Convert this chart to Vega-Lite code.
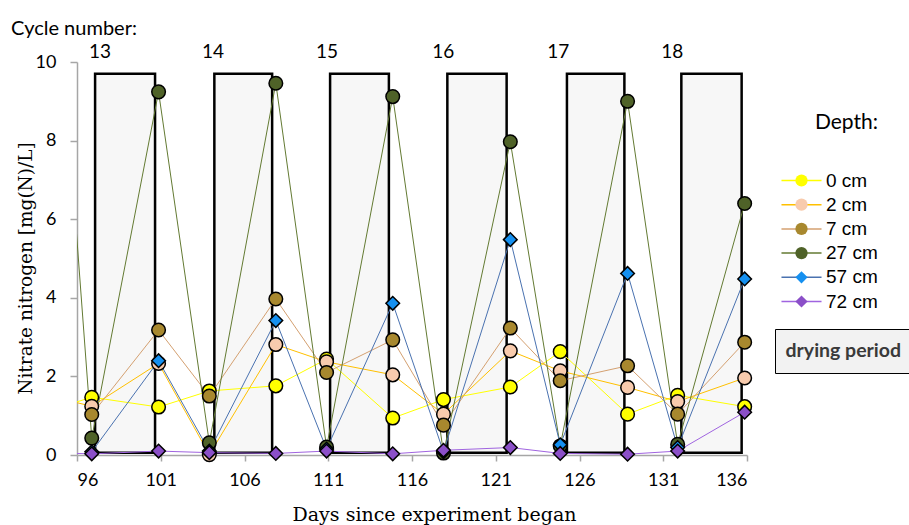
{
  "$schema": "https://vega.github.io/schema/vega-lite/v6.json",
  "width": 670,
  "height": 393,
  "autosize": {"type": "none"},
  "padding": {"left": 77, "top": 62, "right": 162, "bottom": 70},
  "background": "white",
  "title": {"text": "Cycle number:", "anchor": "start", "frame": "bounds", "font": "Lato", "fontSize": 20, "fontWeight": "normal", "color": "black", "offset": 4, "dx": -5},
  "config": {"view": {"stroke": null}, "axis": {"grid": false}},
  "datasets": {
    "obs": [
      {"day": 93.88, "depth": "0 cm", "n": 1.07},
      {"day": 96.88, "depth": "0 cm", "n": 1.47},
      {"day": 100.87, "depth": "0 cm", "n": 1.22},
      {"day": 103.9, "depth": "0 cm", "n": 1.63},
      {"day": 107.87, "depth": "0 cm", "n": 1.76},
      {"day": 110.9, "depth": "0 cm", "n": 2.44},
      {"day": 114.85, "depth": "0 cm", "n": 0.94},
      {"day": 117.88, "depth": "0 cm", "n": 1.41},
      {"day": 121.87, "depth": "0 cm", "n": 1.73},
      {"day": 124.85, "depth": "0 cm", "n": 2.63},
      {"day": 128.87, "depth": "0 cm", "n": 1.04},
      {"day": 131.86, "depth": "0 cm", "n": 1.52},
      {"day": 135.86, "depth": "0 cm", "n": 1.23},
      {"day": 93.88, "depth": "2 cm", "n": 1.55},
      {"day": 96.88, "depth": "2 cm", "n": 1.24},
      {"day": 100.87, "depth": "2 cm", "n": 2.33},
      {"day": 103.9, "depth": "2 cm", "n": 0.01},
      {"day": 107.87, "depth": "2 cm", "n": 2.81},
      {"day": 110.9, "depth": "2 cm", "n": 2.37},
      {"day": 114.85, "depth": "2 cm", "n": 2.04},
      {"day": 117.88, "depth": "2 cm", "n": 1.04},
      {"day": 121.87, "depth": "2 cm", "n": 2.65},
      {"day": 124.85, "depth": "2 cm", "n": 2.14},
      {"day": 128.87, "depth": "2 cm", "n": 1.72},
      {"day": 131.86, "depth": "2 cm", "n": 1.36},
      {"day": 135.86, "depth": "2 cm", "n": 1.96},
      {"day": 96.88, "depth": "7 cm", "n": 1.03},
      {"day": 100.87, "depth": "7 cm", "n": 3.18},
      {"day": 103.9, "depth": "7 cm", "n": 1.5},
      {"day": 107.87, "depth": "7 cm", "n": 3.97},
      {"day": 110.9, "depth": "7 cm", "n": 2.1},
      {"day": 114.85, "depth": "7 cm", "n": 2.93},
      {"day": 117.88, "depth": "7 cm", "n": 0.76},
      {"day": 121.87, "depth": "7 cm", "n": 3.23},
      {"day": 124.85, "depth": "7 cm", "n": 1.89},
      {"day": 128.87, "depth": "7 cm", "n": 2.27},
      {"day": 131.86, "depth": "7 cm", "n": 1.04},
      {"day": 135.86, "depth": "7 cm", "n": 2.87},
      {"day": 93.88, "depth": "27 cm", "n": 17.6},
      {"day": 96.88, "depth": "27 cm", "n": 0.43},
      {"day": 100.87, "depth": "27 cm", "n": 9.24},
      {"day": 103.9, "depth": "27 cm", "n": 0.31},
      {"day": 107.87, "depth": "27 cm", "n": 9.46},
      {"day": 110.9, "depth": "27 cm", "n": 0.2},
      {"day": 114.85, "depth": "27 cm", "n": 9.12},
      {"day": 117.88, "depth": "27 cm", "n": 0.05},
      {"day": 121.87, "depth": "27 cm", "n": 7.97},
      {"day": 124.85, "depth": "27 cm", "n": 0.23},
      {"day": 128.87, "depth": "27 cm", "n": 9.0},
      {"day": 131.86, "depth": "27 cm", "n": 0.27},
      {"day": 135.86, "depth": "27 cm", "n": 6.4},
      {"day": 96.88, "depth": "57 cm", "n": 0.08},
      {"day": 100.87, "depth": "57 cm", "n": 2.4},
      {"day": 103.9, "depth": "57 cm", "n": 0.1},
      {"day": 107.87, "depth": "57 cm", "n": 3.42},
      {"day": 110.9, "depth": "57 cm", "n": 0.15},
      {"day": 114.85, "depth": "57 cm", "n": 3.86},
      {"day": 117.88, "depth": "57 cm", "n": 0.08},
      {"day": 121.87, "depth": "57 cm", "n": 5.48},
      {"day": 124.85, "depth": "57 cm", "n": 0.26},
      {"day": 128.87, "depth": "57 cm", "n": 4.62},
      {"day": 131.86, "depth": "57 cm", "n": 0.19},
      {"day": 135.86, "depth": "57 cm", "n": 4.48},
      {"day": 93.88, "depth": "72 cm", "n": 0.06},
      {"day": 96.88, "depth": "72 cm", "n": 0.03},
      {"day": 100.87, "depth": "72 cm", "n": 0.1},
      {"day": 103.9, "depth": "72 cm", "n": 0.06},
      {"day": 107.87, "depth": "72 cm", "n": 0.04},
      {"day": 110.9, "depth": "72 cm", "n": 0.1},
      {"day": 114.85, "depth": "72 cm", "n": 0.03},
      {"day": 117.88, "depth": "72 cm", "n": 0.12},
      {"day": 121.87, "depth": "72 cm", "n": 0.19},
      {"day": 124.85, "depth": "72 cm", "n": 0.04},
      {"day": 128.87, "depth": "72 cm", "n": 0.02},
      {"day": 131.86, "depth": "72 cm", "n": 0.1},
      {"day": 135.86, "depth": "72 cm", "n": 1.09}
    ],
    "dry": [
      {"cycle": "13", "start": 97.08, "end": 100.66, "top": 9.7, "bottom": 0.06, "period": "drying period"},
      {"cycle": "14", "start": 104.2, "end": 107.65, "top": 9.7, "bottom": 0.06, "period": "drying period"},
      {"cycle": "15", "start": 111.11, "end": 114.62, "top": 9.7, "bottom": 0.06, "period": "drying period"},
      {"cycle": "16", "start": 118.11, "end": 121.65, "top": 9.7, "bottom": 0.06, "period": "drying period"},
      {"cycle": "17", "start": 125.25, "end": 128.68, "top": 9.7, "bottom": 0.06, "period": "drying period"},
      {"cycle": "18", "start": 132.08, "end": 135.68, "top": 9.7, "bottom": 0.06, "period": "drying period"}
    ],
    "cycles": [
      {"cycle": "13", "label_day": 97.37},
      {"cycle": "14", "label_day": 104.12},
      {"cycle": "15", "label_day": 110.93},
      {"cycle": "16", "label_day": 117.86},
      {"cycle": "17", "label_day": 124.73},
      {"cycle": "18", "label_day": 131.54}
    ]
  },
  "layer": [
    {
      "data": {"name": "dry"},
      "mark": {"type": "rect", "stroke": "black", "strokeWidth": 2.5},
      "encoding": {
        "x": {
          "field": "start", "type": "quantitative",
          "scale": {"domain": [96, 136], "nice": false, "zero": false},
          "axis": {
            "values": [96, 101, 106, 111, 116, 121, 126, 131, 136],
            "title": "Days since experiment began",
            "titleFont": "DejaVu Serif", "titleFontSize": 19, "titleFontWeight": "normal", "titleColor": "black", "titlePadding": 16, "titleX": 357,
            "labelFont": "Lato", "labelFontSize": 18, "labelColor": "black", "labelPadding": 10,
            "domainColor": "#a6a6a6", "domainWidth": 1.5, "tickColor": "#a6a6a6", "tickWidth": 1.5, "tickSize": 6
          }
        },
        "x2": {"field": "end"},
        "y": {
          "field": "top", "type": "quantitative",
          "scale": {"domain": [0, 10], "nice": false},
          "axis": {
            "values": [0, 2, 4, 6, 8, 10],
            "title": "Nitrate nitrogen [mg(N)/L]",
            "titleFont": "DejaVu Serif", "titleFontSize": 18.5, "titleFontWeight": "normal", "titleColor": "black", "titlePadding": 0, "titleY": 206,
            "labelFont": "Lato", "labelFontSize": 18, "labelColor": "black", "labelPadding": 14,
            "domainColor": "#a6a6a6", "domainWidth": 1.5, "tickColor": "#a6a6a6", "tickWidth": 1.5, "tickSize": 7
          }
        },
        "y2": {"field": "bottom"},
        "color": {
          "field": "period", "type": "nominal",
          "scale": {"range": ["#f7f7f7"]},
          "legend": {
            "title": null, "orient": "none", "legendX": 698, "legendY": 267,
            "padding": 12, "fillColor": "#f2f2f2", "strokeColor": "black",
            "symbolSize": 0, "symbolOpacity": 0, "symbolStrokeWidth": 0, "labelOffset": -21,
            "labelFont": "Lato", "labelFontSize": 19.5, "labelFontWeight": "bold", "labelColor": "#3a3a3a",
            "labelLimit": 300,
            "encoding": {"legend": {"update": {"strokeWidth": {"value": 2}}}}
          }
        }
      }
    },
    {
      "data": {"name": "obs"},
      "mark": {"type": "line", "strokeWidth": 1, "clip": true},
      "encoding": {
        "x": {"field": "day", "type": "quantitative"},
        "y": {"field": "n", "type": "quantitative"},
        "stroke": {
          "field": "depth", "type": "nominal",
          "scale": {"domain": ["72 cm", "57 cm", "27 cm", "7 cm", "2 cm", "0 cm"], "range": ["#a064e0", "#4a72b0", "#637a32", "#d4a070", "#ffc000", "#ffff00"]},
          "legend": {
            "title": "Depth:", "values": ["0 cm", "2 cm", "7 cm", "27 cm", "57 cm", "72 cm"],
            "orient": "none", "legendX": 715, "legendY": 50, "padding": 0, "zindex": 1,
            "titleFont": "Lato", "titleFontSize": 21, "titleFontWeight": "normal", "titleColor": "black", "titleOpacity": 0, "titlePadding": 38, "titleAnchor": "end",
            "labelFont": "Liberation Sans", "labelFontSize": 19, "labelColor": "black", "labelOpacity": 0, "labelOffset": 15,
            "symbolType": "M-3.27,0H3.27", "symbolSize": 150, "symbolStrokeWidth": 1.5, "symbolFillColor": "transparent", "rowPadding": 4.2
          }
        }
      }
    },
    {
      "data": {"name": "obs"},
      "transform": [{"filter": "datum.day >= 96"}],
      "mark": {"type": "point", "filled": true, "stroke": "black", "strokeWidth": 1.5, "size": 185, "opacity": 1},
      "encoding": {
        "x": {"field": "day", "type": "quantitative"},
        "y": {"field": "n", "type": "quantitative"},
        "fill": {
          "field": "depth", "type": "nominal",
          "scale": {"domain": ["0 cm", "2 cm", "7 cm", "27 cm", "57 cm", "72 cm"], "range": ["#ffff00", "#f8cbad", "#a8882e", "#4f6228", "#1590f0", "#8b4fc8"]},
          "legend": {
            "title": "Depth:", "orient": "none", "legendX": 715, "legendY": 50, "padding": 0, "zindex": 2,
            "titleFont": "Lato", "titleFontSize": 21, "titleFontWeight": "normal", "titleColor": "black", "titlePadding": 38, "titleAnchor": "end",
            "labelFont": "Liberation Sans", "labelFontSize": 19, "labelColor": "black", "labelOffset": 15,
            "symbolSize": 150, "symbolStrokeColor": "black", "symbolStrokeWidth": 1.5, "rowPadding": 4.2,
            "encoding": {"symbols": {"update": {"stroke": {"value": "black"}, "strokeWidth": {"value": 1.5}}}}
          }
        },
        "shape": {
          "field": "depth", "type": "nominal",
          "scale": {"domain": ["0 cm", "2 cm", "7 cm", "27 cm", "57 cm", "72 cm"], "range": ["circle", "circle", "circle", "circle", "diamond", "diamond"]},
          "legend": {
            "title": "Depth:", "orient": "none", "legendX": 715, "legendY": 50, "padding": 0, "zindex": 2,
            "titleFont": "Lato", "titleFontSize": 21, "titleFontWeight": "normal", "titleColor": "black", "titlePadding": 38, "titleAnchor": "end",
            "labelFont": "Liberation Sans", "labelFontSize": 19, "labelColor": "black", "labelOffset": 15,
            "symbolSize": 150, "symbolStrokeColor": "black", "symbolStrokeWidth": 1.5, "rowPadding": 4.2,
            "encoding": {"symbols": {"update": {"stroke": {"value": "black"}, "strokeWidth": {"value": 1.5}}}}
          }
        }
      }
    },
    {
      "data": {"name": "cycles"},
      "mark": {"type": "text", "font": "Lato", "fontSize": 19, "color": "black", "align": "center", "baseline": "middle"},
      "encoding": {
        "x": {"field": "label_day", "type": "quantitative"},
        "y": {"datum": 10.26},
        "text": {"field": "cycle"}
      }
    }
  ]
}
